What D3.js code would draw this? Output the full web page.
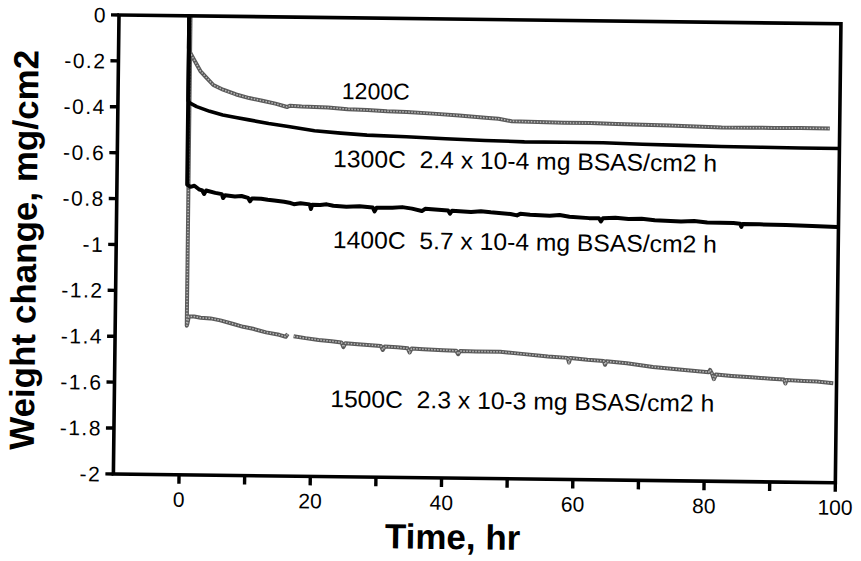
<!DOCTYPE html>
<html><head><meta charset="utf-8">
<script src="https://cdn.jsdelivr.net/npm/d3@7/dist/d3.min.js"></script>
<style>body{margin:0;background:#fff}svg{display:block}.lbl{white-space:pre}</style>
</head><body>
<svg id="chart" width="861" height="561"></svg>
<script>
// ---- data ----
const xTickValues = [0,10,20,30,40,50,60,70,80,90,100];
const xLabelValues = [0,20,40,60,80,100];
const xTickLabels = ["0","20","40","60","80","100"];
const yTickValues = [0,-0.2,-0.4,-0.6,-0.8,-1,-1.2,-1.4,-1.6,-1.8,-2];
const yTickLabels = ["0","-0.2","-0.4","-0.6","-0.8","-1","-1.2","-1.4","-1.6","-1.8","-2"];

const seriesNames = ["1200C","1300C","1400C","1500C"];
const seriesLabels = ["1200C","1300C  2.4 x 10-4 mg BSAS/cm2 h","1400C  5.7 x 10-4 mg BSAS/cm2 h","1500C  2.3 x 10-3 mg BSAS/cm2 h"];
const labelAnchorT = [24.1, 22.9, 23.0, 22.9];
const labelAnchorW = [-0.354, -0.651, -1.004, -1.697];

const s1200 = [[0.7,0],[0.7,-0.14],[0.9,-0.16],[1.5,-0.19],[2.5,-0.24],[3.5,-0.27],[4.5,-0.30],[6,-0.32],[8,-0.34],[10,-0.355],[12,-0.366],[14,-0.378],[15.8,-0.392],[16.2,-0.386],[18,-0.389],[20,-0.39],[22,-0.392],[25,-0.398],[28,-0.401],[31,-0.405],[34,-0.407],[38,-0.413],[42,-0.42],[46,-0.428],[48,-0.432],[50,-0.442],[54,-0.444],[58,-0.446],[62,-0.446],[66,-0.448],[70,-0.45],[74,-0.452],[78,-0.455],[82,-0.458],[86,-0.458],[90,-0.457],[94,-0.456],[98.5,-0.457]];
const s1300 = [[0.7,0],[0.7,-0.37],[1,-0.38],[2,-0.395],[4,-0.415],[6,-0.43],[8,-0.44],[10,-0.45],[13,-0.465],[16,-0.477],[20,-0.494],[24,-0.503],[28,-0.51],[34,-0.515],[40,-0.522],[46,-0.527],[52,-0.531],[58,-0.531],[64,-0.531],[70,-0.535],[76,-0.538],[82,-0.541],[88,-0.542],[94,-0.543],[100,-0.543]];
const s1400 = [[0.7,0],[0.7,-0.735],[1.2,-0.745],[1.8,-0.74],[2.5,-0.755],[3,-0.76],[3.3,-0.775],[3.6,-0.76],[5,-0.77],[6,-0.775],[6.2,-0.792],[6.5,-0.78],[8,-0.785],[9,-0.782],[10,-0.79],[10.3,-0.805],[10.6,-0.792],[12,-0.793],[13,-0.797],[14,-0.80],[15.5,-0.805],[16.5,-0.81],[17,-0.815],[18,-0.811],[19.4,-0.815],[19.6,-0.835],[19.8,-0.816],[21,-0.817],[22,-0.814],[23,-0.82],[25,-0.823],[27,-0.82],[29,-0.825],[29.3,-0.842],[29.6,-0.826],[32,-0.825],[33.5,-0.822],[35,-0.828],[36.5,-0.838],[37,-0.828],[38,-0.83],[40.5,-0.834],[40.8,-0.848],[41.1,-0.835],[44,-0.84],[45.5,-0.836],[47,-0.84],[50,-0.846],[51,-0.852],[51.5,-0.845],[53,-0.848],[56,-0.852],[57.5,-0.848],[59,-0.855],[62,-0.86],[63.5,-0.86],[63.8,-0.874],[64.1,-0.86],[66,-0.857],[68,-0.862],[70,-0.86],[72,-0.866],[76,-0.87],[78,-0.867],[80,-0.873],[84,-0.874],[85,-0.876],[85.2,-0.89],[85.4,-0.877],[88,-0.878],[92,-0.88],[96,-0.882],[99.8,-0.885]];
const s1500 = [[0.9,0],[0.9,-1.35],[1.0,-1.34],[1.2,-1.31],[2,-1.31],[3,-1.315],[4.5,-1.317],[6,-1.325],[8,-1.34],[9.5,-1.352],[11,-1.36],[13,-1.375],[15,-1.385],[16,-1.393],[16.3,-1.38],[16.6,null],[17.2,-1.39],[19,-1.398],[21,-1.405],[23,-1.41],[24.5,-1.415],[24.8,-1.435],[25.1,-1.418],[27,-1.422],[29,-1.425],[30.5,-1.428],[30.8,-1.445],[31.1,-1.43],[33,-1.433],[34.6,-1.437],[34.9,-1.455],[35.2,-1.438],[37,-1.44],[40,-1.443],[42,-1.445],[42.3,-1.46],[42.6,-1.446],[45,-1.447],[48.7,-1.447],[52,-1.455],[56,-1.465],[59,-1.47],[59.2,-1.49],[59.4,-1.47],[62,-1.477],[64.5,-1.482],[64.7,-1.498],[64.9,-1.483],[68,-1.49],[72,-1.505],[76,-1.515],[80.5,-1.525],[80.7,-1.515],[81,-1.53],[81.3,-1.555],[81.6,-1.535],[84,-1.54],[87,-1.545],[90,-1.55],[92,-1.553],[92.2,-1.57],[92.4,-1.555],[95,-1.558],[97,-1.56],[99.5,-1.566]];

// ---- drawing ----
const W = 722, H = 459;
const svg = d3.select("#chart");
const g = svg.append("g").attr("transform","translate(119,15) rotate(0.7)");
const x = d3.scaleLinear().domain([-10,100]).range([0,W]);
const y = d3.scaleLinear().domain([-2,0]).range([H,0]);
const FONT = "'Liberation Sans', Arial, Helvetica, sans-serif";

// x ticks and labels
g.append("g").selectAll("rect").data(xTickValues).join("rect")
  .attr("x",d => x(d) - 1.7).attr("y",H).attr("width",3.4).attr("height",9)
  .attr("fill","#000");
g.append("g").selectAll("text").data(xLabelValues).join("text")
  .attr("x",d => x(d)).attr("y",H + 32).attr("text-anchor","middle")
  .attr("font-family",FONT).attr("font-size",21).attr("fill","#000")
  .text((d,i) => xTickLabels[i]);

// y ticks and labels
g.append("g").selectAll("rect").data(yTickValues).join("rect")
  .attr("x",-8).attr("y",d => y(d) - 1.7).attr("width",8).attr("height",3.4)
  .attr("fill","#000");
g.append("g").selectAll("text").data(yTickValues).join("text")
  .attr("x",-12).attr("y",d => y(d)).attr("dy","0.36em").attr("text-anchor","end")
  .attr("font-family",FONT).attr("font-size",21).attr("fill","#000")
  .attr("letter-spacing","1.5px")
  .text((d,i) => yTickLabels[i]);

// series
const line = d3.line().defined(d => d[1] !== null).x(d => x(d[0])).y(d => y(d[1]));
function grayLine(data){
  g.append("path").datum(data).attr("d",line).attr("fill","none")
    .attr("stroke","#5a5a5a").attr("stroke-width",4).attr("stroke-linejoin","round");
  g.append("path").datum(data).attr("d",line).attr("fill","none")
    .attr("stroke","#b8b8b8").attr("stroke-width",1.5).attr("stroke-dasharray","1.5,1.5");
}
function blackLine(data, w){
  g.append("path").datum(data).attr("d",line).attr("fill","none")
    .attr("stroke","#000").attr("stroke-width",w).attr("stroke-linejoin","round");
}
grayLine(s1500);
grayLine(s1200);
blackLine(s1300, 3.6);
blackLine(s1400, 4);

// frame
g.append("rect").attr("x",0).attr("y",0).attr("width",W).attr("height",H)
  .attr("fill","none").attr("stroke","#000").attr("stroke-width",3.6);

// series labels
seriesLabels.forEach((t,i) => {
  const tx = g.append("text").attr("class","lbl").attr("x",x(labelAnchorT[i])).attr("y",y(labelAnchorW[i]))
    .attr("font-family",FONT).attr("font-size", i === 0 ? 23 : 24).attr("fill","#000").text(t);
  if (i > 0) tx.attr("textLength",384).attr("lengthAdjust","spacingAndGlyphs");
});

// axis titles
g.append("text").attr("x",340).attr("y",530).attr("text-anchor","middle")
  .attr("font-family",FONT).attr("font-weight","bold").attr("font-size",35).attr("fill","#000")
  .text("Time, hr");
g.append("text").attr("transform","translate(-80,236) rotate(-90)").attr("text-anchor","middle")
  .attr("font-family",FONT).attr("font-weight","bold").attr("font-size",35).attr("fill","#000")
  .text("Weight change, mg/cm2");
</script>
</body></html>
